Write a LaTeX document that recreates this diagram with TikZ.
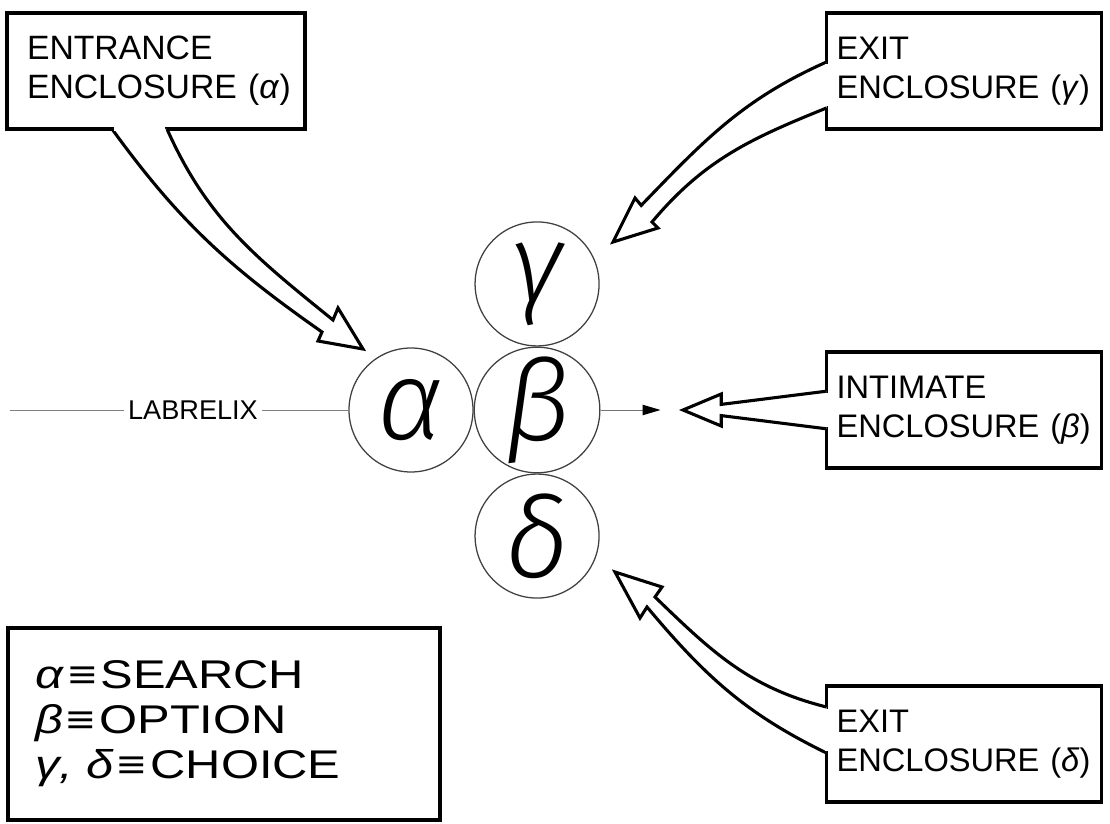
\documentclass[tikz,border=0pt]{standalone}
\usepackage{fontspec}
\setmainfont{Liberation Sans}
\newfontfamily\legendfont[FakeStretch=1.22]{Liberation Sans}
\newfontfamily\stagefont{Fira Sans Light Italic}
\usetikzlibrary{arrows.meta,positioning,calc}

\begin{document}
\begin{tikzpicture}[
	enclosure/.style={
		rectangle,
		draw=black,
		line width=2.2pt,
		outer sep=0pt,
		minimum width=6.875cm,
		minimum height=2.9cm,
		text width=6.375cm,
		align=left,
		inner xsep=0.25cm,
		inner ysep=0pt,
		font=\fontsize{23.2}{27.5}\selectfont
	},
	legendbox/.style={
		rectangle,
		draw=black,
		line width=2.2pt,
		outer sep=0pt,
		minimum width=10.8cm,
		minimum height=4.8cm,
		text width=9.45cm,
		inner xsep=0.675cm,
		inner ysep=0pt,
		align=left,
		font=\legendfont\fontsize{28.5}{32}\selectfont
	},
	stage/.style={
		circle,
		draw=black!75,
		line width=0.9pt,
		minimum size=3.1cm,
		inner sep=0pt,
		font=\stagefont\fontsize{80}{82}\selectfont
	},
	helix/.style={draw=black!50, line width=0.7pt},
	hollow/.style={draw=black, line width=2.2pt, fill=white, line join=miter},
	gap/.style={draw=white, line width=2.8pt, shorten <=1.3pt, shorten >=1.3pt},
	pointer/.style={-{Triangle[length=4.5mm,width=2.6mm,black]}, draw=black!55, line width=0.7pt}
]
\useasboundingbox (0,0) rectangle (27.75,20.575);

\node[stage] (alpha) at (10.275,10.325) {α};
\node[stage, right=0pt of alpha] (beta) {β};
\node[stage, above=0pt of beta] (gamma) {γ};
\node[stage, below=0pt of beta] (delta) {δ};

\node[enclosure, text width=6.45cm, inner xsep=0.5cm, font=\fontsize{24}{27.5}\selectfont] (entr) at (3.9,18.8) {ENTRANCE\\ENCLOSURE~(\textit{α})};
\node[enclosure] (exitg) at (24.1,18.8) {EXIT\\ENCLOSURE~(\textit{γ})};
\node[enclosure] (intim) at (24.1,10.325) {INTIMATE\\ENCLOSURE~(\textit{β})};
\node[enclosure] (exitd) at (24.1,1.975) {EXIT\\ENCLOSURE~(\textit{δ})};

\node[legendbox] (legend) at (5.6,2.475) {\textit{α}\kern0.1em≡\kern0.1em SEARCH\\\textit{β}\kern0.1em≡\kern0.1em OPTION\\\textit{γ, δ}\kern0.1em≡\kern0.1em CHOICE};

\coordinate (lstart) at (0.25,10.325);
\node[font=\fontsize{19.3}{21}\selectfont, inner xsep=0.1cm] (labrelix) at (4.825,10.325) {LABRELIX};
\draw[helix] (lstart) -- (labrelix.west);
\draw[helix] (labrelix.east) -- (alpha.west);

\coordinate[right=1.5cm of beta.east] (betatip);
\draw[pointer] (beta.east) -- (betatip);

\coordinate (entrA) at ($(entr.south west)+(2.625,0)$);
\coordinate (entrB) at ($(entr.south west)+(4.0,0)$);
\coordinate (tipa) at (9.075,11.85);
\draw[hollow] (entrA) to[out=-54,in=145] (8.05,12.275) -- (7.95,12.05) -- (tipa) -- (8.45,12.875) -- (8.325,12.575) to[out=141,in=-66] (entrB);
\draw[gap] (entrA) -- (entrB);

\coordinate (exitgA) at ($(exitg.north west)+(0,-1.225)$);
\coordinate (exitgB) at ($(exitg.south west)+(0,0.525)$);
\coordinate (tipg) at (15.325,14.525);
\draw[hollow] (exitgA) to[out=204,in=46] (16.03,15.44) -- (15.875,15.625) -- (tipg) -- (16.45,14.875) -- (16.3,15.025) to[out=50,in=202] (exitgB);
\draw[gap] (exitgA) -- (exitgB);

\coordinate (intimA) at ($(intim.west)+(0,0.47)$);
\coordinate (intimB) at ($(intim.west)+(0,-0.47)$);
\coordinate (tipb) at (17.075,10.325);
\draw[hollow] (intimA) -- (18.03,10.465) -- (18.03,10.725) -- (tipb) -- (18.03,9.925) -- (18.03,10.185) -- (intimB);
\draw[gap] (intimA) -- (intimB);

\coordinate (exitdA) at ($(exitd.north west)+(0,-0.525)$);
\coordinate (exitdB) at ($(exitd.south west)+(0,1.225)$);
\coordinate (tipd) at (15.375,6.275);
\draw[hollow] (exitdA) to[out=166,in=-44] (16.375,5.65) -- (16.55,5.9) -- (tipd) -- (16.0,5.125) -- (16.175,5.4) to[out=-50,in=154] (exitdB);
\draw[gap] (exitdA) -- (exitdB);
\end{tikzpicture}
\end{document}
